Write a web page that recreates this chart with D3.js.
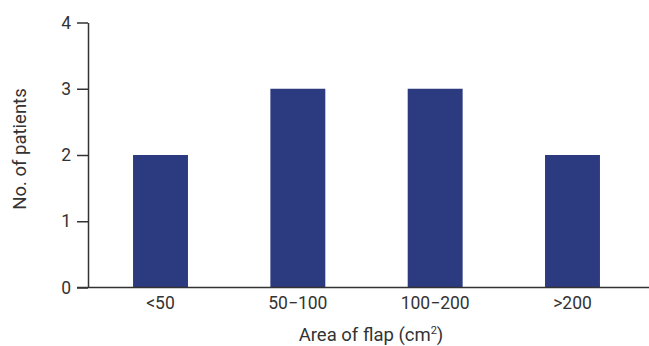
<!DOCTYPE html>
<html><head><meta charset="utf-8">
<script src="https://cdn.jsdelivr.net/npm/d3@7"></script>
<style>body{margin:0;background:#fff;} svg{display:block;}</style>
</head><body>
<svg id="c" width="649" height="346"></svg>
<script>
const categories = ["<50", "50\u2212100", "100\u2212200", ">200"];
const patients = [2, 3, 3, 2];
const yTicks = [0, 1, 2, 3, 4];

const svg = d3.select("#c");
const font = "Roboto,'Noto Sans',sans-serif";
const axisColor = "#333";
const fs = "17.5px";

const x = d3.scaleBand().domain(categories).range([88, 645]).paddingInner(0.6).paddingOuter(0.328);
const y = d3.scaleLinear().domain([0, 4]).range([287.5, 22.5]);

svg.selectAll("rect.bar").data(patients).enter().append("rect")
  .attr("class", "bar")
  .attr("x", (d, i) => x(categories[i]))
  .attr("width", x.bandwidth())
  .attr("y", d => y(d))
  .attr("height", d => y(0) - y(d))
  .attr("fill", "#2c3a7f");

const yAxis = svg.append("g").attr("transform", "translate(88,0)")
  .call(d3.axisLeft(y).tickValues(yTicks).tickFormat(d3.format("d")).tickSize(11).tickSizeOuter(0).tickPadding(6));
yAxis.select(".domain").attr("stroke", axisColor).attr("stroke-width", 1.5);
yAxis.selectAll(".tick line").attr("stroke", axisColor).attr("stroke-width", 1.5);
yAxis.selectAll(".tick text").attr("fill", axisColor).style("font-family", font).style("font-size", fs);

const xAxis = svg.append("g").attr("transform", `translate(0,${y(0)})`)
  .call(d3.axisBottom(x).tickSize(0).tickPadding(9));
xAxis.select(".domain").attr("d", "M77,0H649").attr("stroke", axisColor).attr("stroke-width", 1.5);
xAxis.selectAll(".tick text").attr("fill", axisColor).style("font-family", font).style("font-size", fs);

const xt = svg.append("text").attr("x", 371).attr("y", 341).attr("text-anchor", "middle")
  .attr("fill", axisColor).style("font-family", font).style("font-size", "18.5px");
xt.append("tspan").text("Area of flap (cm");
xt.append("tspan").attr("dy", -7).style("font-size", "11px").text("2");
xt.append("tspan").attr("dy", 7).text(")");

svg.append("text").attr("transform", "translate(26,149) rotate(-90)").attr("text-anchor", "middle")
  .attr("fill", axisColor).style("font-family", font).style("font-size", "18.5px").text("No. of patients");
</script>
</body></html>
